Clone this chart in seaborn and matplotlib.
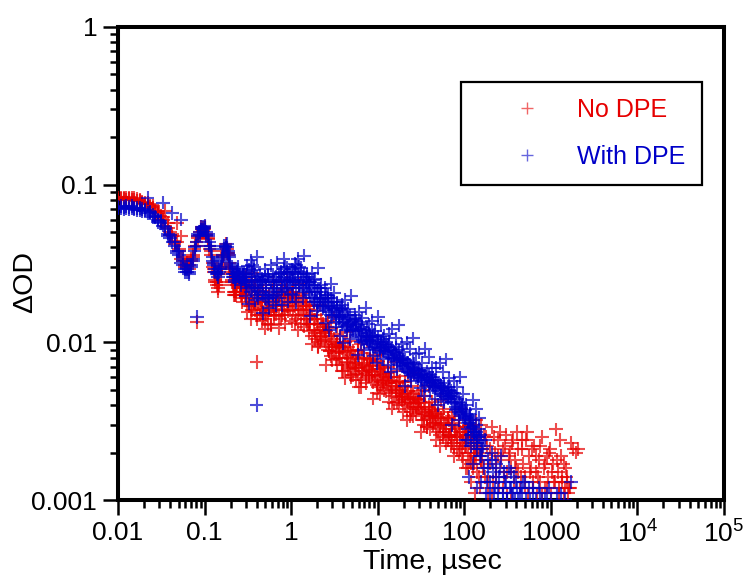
import matplotlib
matplotlib.use("Agg")
import matplotlib.pyplot as plt
from matplotlib.lines import Line2D
from matplotlib.ticker import FixedLocator, FixedFormatter, LogLocator, NullFormatter
import pandas as pd
import seaborn as sns

# ---------------- data ----------------
T_EARLY = [0.0100, 0.0108, 0.0116, 0.0125, 0.0134, 0.0144, 0.0155, 0.0166, 0.0178, 0.0191,
           0.0205, 0.0220, 0.0236, 0.0253, 0.0271, 0.0290, 0.0310, 0.0331, 0.0353, 0.0376,
           0.0400, 0.0425, 0.0451, 0.0478, 0.0506, 0.0535, 0.0565, 0.0596, 0.0628, 0.0661,
           0.0695, 0.0730, 0.0766, 0.0803, 0.0841, 0.0880, 0.0920, 0.0961, 0.1003, 0.1046,
           0.1090, 0.1135, 0.1181, 0.1228, 0.1276, 0.1325, 0.1375, 0.1426, 0.1478, 0.1531,
           0.1585, 0.1640, 0.1696, 0.1753, 0.1811, 0.1870, 0.1930, 0.1991, 0.2053, 0.2116,
           0.2180, 0.2245, 0.2311, 0.2378, 0.2446, 0.2515, 0.2585, 0.2656, 0.2728, 0.2801,
           0.2875, 0.2950]
RED_EARLY = [0.082, 0.081, 0.083, 0.082, 0.081, 0.082, 0.080, 0.081, 0.079, 0.078,
             0.077, 0.075, 0.074, 0.071, 0.069, 0.066, 0.063, 0.060, 0.068, 0.053,
             0.050, 0.047, 0.044, 0.057, 0.038, 0.047, 0.033, 0.031, 0.030, 0.031,
             0.033, 0.036, 0.039, 0.043, 0.047, 0.050, 0.052, 0.053, 0.052, 0.049,
             0.045, 0.041, 0.036, 0.032, 0.028, 0.025, 0.023, 0.022, 0.024, 0.027,
             0.031, 0.035, 0.038, 0.040, 0.039, 0.036, 0.032, 0.028, 0.025, 0.023,
             0.021, 0.020, 0.021, 0.023, 0.025, 0.024, 0.022, 0.020, 0.019, 0.021,
             0.023, 0.022]
RED_EARLY2 = [0.080, 0.083, 0.081, 0.080, 0.083, 0.080, 0.082, 0.079, 0.080, 0.077,
              0.075, 0.077, 0.072, 0.073, 0.067, 0.068, 0.061, 0.062, 0.055, 0.057,
              0.048, 0.049, 0.042, 0.043, 0.039, 0.034, 0.035, 0.030, 0.032, 0.029,
              0.034, 0.035, 0.041, 0.041, 0.046, 0.048, 0.054, 0.051, 0.054, 0.047,
              0.046, 0.039, 0.038, 0.030, 0.029, 0.024, 0.024, 0.021, 0.023, 0.029,
              0.030, 0.036, 0.036, 0.042, 0.037, 0.037, 0.030, 0.029, 0.024, 0.024,
              0.020, 0.021, 0.020, 0.024, 0.024, 0.025, 0.021, 0.021, 0.018, 0.022,
              0.022, 0.020]
BLUE_EARLY = [0.072, 0.071, 0.072, 0.071, 0.072, 0.071, 0.070, 0.071, 0.069, 0.070,
              0.068, 0.082, 0.066, 0.064, 0.062, 0.060, 0.057, 0.077, 0.052, 0.049,
              0.046, 0.066, 0.041, 0.038, 0.036, 0.060, 0.031, 0.029, 0.028, 0.028,
              0.030, 0.034, 0.038, 0.043, 0.047, 0.050, 0.052, 0.054, 0.053, 0.050,
              0.047, 0.043, 0.039, 0.035, 0.031, 0.029, 0.027, 0.027, 0.028, 0.030,
              0.033, 0.036, 0.039, 0.041, 0.040, 0.038, 0.035, 0.032, 0.029, 0.027,
              0.026, 0.025, 0.026, 0.028, 0.029, 0.027, 0.026, 0.024, 0.025, 0.027,
              0.026, 0.025]
BLUE_EARLY2 = [0.071, 0.073, 0.070, 0.073, 0.070, 0.073, 0.071, 0.069, 0.071, 0.068,
               0.069, 0.066, 0.067, 0.062, 0.063, 0.058, 0.059, 0.055, 0.054, 0.047,
               0.048, 0.043, 0.043, 0.037, 0.038, 0.032, 0.033, 0.028, 0.029, 0.027,
               0.031, 0.033, 0.040, 0.041, 0.049, 0.048, 0.054, 0.052, 0.055, 0.048,
               0.049, 0.041, 0.041, 0.033, 0.032, 0.028, 0.028, 0.026, 0.029, 0.029,
               0.034, 0.035, 0.041, 0.040, 0.042, 0.037, 0.036, 0.031, 0.030, 0.026,
               0.027, 0.024, 0.027, 0.027, 0.030, 0.026, 0.027, 0.023, 0.026, 0.026,
               0.027, 0.024]

T_MID = [0.300, 0.313, 0.326, 0.340, 0.355, 0.370, 0.386, 0.402, 0.419, 0.437,
         0.456, 0.476, 0.496, 0.517, 0.539, 0.562, 0.586, 0.611, 0.637, 0.665,
         0.693, 0.723, 0.754, 0.786, 0.819, 0.854, 0.891, 0.929, 0.969, 1.010,
         1.053, 1.098, 1.145, 1.194, 1.245, 1.298, 1.354, 1.412, 1.472, 1.535,
         1.601, 1.669, 1.741, 1.815, 1.893, 1.974, 2.058, 2.146, 2.238, 2.334,
         2.434, 2.538, 2.646, 2.760, 2.878, 3.001, 3.129, 3.263, 3.403, 3.548,
         3.700, 3.858, 4.024, 4.196, 4.375, 4.563, 4.758, 4.961, 5.174, 5.395,
         5.626, 5.867, 6.118, 6.380, 6.653, 6.938, 7.235, 7.545, 7.868, 8.205,
         8.556, 8.922, 9.304, 9.703, 10.12, 10.55, 11.00, 11.47, 11.97, 12.48,
         13.01, 13.57, 14.15, 14.76, 15.39, 16.05, 16.73, 17.45, 18.20, 18.98,
         19.79, 20.64, 21.52, 22.44, 23.40, 24.40, 25.45, 26.54, 27.67, 28.86,
         30.09, 31.38, 32.72, 34.12, 35.59, 37.11, 38.70, 40.35, 42.08, 43.88,
         45.76, 47.72, 49.76, 51.89, 54.12, 56.43, 58.85, 61.37, 64.00, 66.74,
         69.59, 72.57, 75.68, 78.92, 82.30, 85.82, 89.50, 93.33, 97.33, 101.5,
         105.8, 110.4, 115.1, 120.0, 125.2, 130.5, 136.1, 141.9, 148.0, 154.3]
RED_MID = [0.022, 0.019, 0.024, 0.017, 0.020, 0.023, 0.016, 0.019, 0.021, 0.015,
           0.018, 0.020, 0.015, 0.017, 0.013, 0.019, 0.016, 0.021, 0.015, 0.017,
           0.019, 0.015, 0.018, 0.021, 0.016, 0.019, 0.022, 0.017, 0.020, 0.018,
           0.021, 0.017, 0.019, 0.015, 0.020, 0.018, 0.016, 0.019, 0.014, 0.017,
           0.016, 0.013, 0.015, 0.012, 0.014, 0.011, 0.013, 0.010, 0.014, 0.0115,
           0.012, 0.0098, 0.0125, 0.0088, 0.011, 0.0093, 0.0105, 0.0078, 0.0098, 0.0087,
           0.0095, 0.0072, 0.0088, 0.0101, 0.0079, 0.0068, 0.0090, 0.0083, 0.0062, 0.0081,
           0.0074, 0.0088, 0.0069, 0.0058, 0.0080, 0.0072, 0.0064, 0.0079, 0.0067, 0.0071,
           0.0062, 0.0075, 0.0058, 0.0068, 0.0052, 0.0066, 0.0071, 0.0055, 0.0063, 0.0059,
           0.0064, 0.0051, 0.0057, 0.0046, 0.0060, 0.0053, 0.0042, 0.0056, 0.0050, 0.0047,
           0.0052, 0.0044, 0.0038, 0.0049, 0.0045, 0.0036, 0.0047, 0.0041, 0.0044, 0.0039,
           0.0043, 0.0037, 0.0032, 0.0041, 0.0036, 0.0029, 0.0039, 0.0034, 0.0038, 0.0031,
           0.0035, 0.0029, 0.0033, 0.0026, 0.0031, 0.0036, 0.0027, 0.0030, 0.0024, 0.0032,
           0.0028, 0.0023, 0.0031, 0.0026, 0.0021, 0.0029, 0.0024, 0.0019, 0.0027, 0.0022,
           0.0026, 0.0020, 0.0023, 0.0017, 0.0025, 0.0019, 0.0022, 0.0015, 0.0021, 0.0018]
RED_MID2 = [0.019, 0.023, 0.017, 0.021, 0.016, 0.018, 0.022, 0.014, 0.018, 0.020,
            0.016, 0.014, 0.019, 0.015, 0.018, 0.016, 0.013, 0.017, 0.019, 0.015,
            0.017, 0.020, 0.014, 0.016, 0.019, 0.015, 0.017, 0.020, 0.016, 0.021,
            0.016, 0.019, 0.014, 0.018, 0.016, 0.013, 0.018, 0.015, 0.017, 0.013,
            0.013, 0.015, 0.011, 0.014, 0.0105, 0.013, 0.0095, 0.012, 0.0108, 0.0125,
            0.0102, 0.0118, 0.0090, 0.0110, 0.0082, 0.0100, 0.0085, 0.0096, 0.0072, 0.0093,
            0.0080, 0.0092, 0.0066, 0.0085, 0.0075, 0.0094, 0.0070, 0.0060, 0.0078, 0.0072,
            0.0069, 0.0063, 0.0078, 0.0052, 0.0066, 0.0074, 0.0059, 0.0070, 0.0061, 0.0077,
            0.0065, 0.0056, 0.0062, 0.0048, 0.0060, 0.0068, 0.0054, 0.0061, 0.0050, 0.0058,
            0.0055, 0.0060, 0.0048, 0.0053, 0.0041, 0.0050, 0.0055, 0.0045, 0.0049, 0.0043,
            0.0046, 0.0040, 0.0048, 0.0042, 0.0034, 0.0044, 0.0039, 0.0045, 0.0035, 0.0041,
            0.0038, 0.0042, 0.0035, 0.0030, 0.0039, 0.0033, 0.0036, 0.0028, 0.0034, 0.0037,
            0.0031, 0.0034, 0.0027, 0.0030, 0.0033, 0.0025, 0.0031, 0.0028, 0.0033, 0.0026,
            0.0025, 0.0030, 0.0022, 0.0028, 0.0025, 0.0020, 0.0027, 0.0023, 0.0018, 0.0025,
            0.0022, 0.0027, 0.0018, 0.0024, 0.0016, 0.0021, 0.0019, 0.0024, 0.0014, 0.0020]
RED_MID3 = [0.026, 0.0156, 0.0224, 0.014, 0.0276, 0.0176, 0.0244, 0.0148, 0.021, 0.0166,
            0.0136, 0.0213, 0.0122, 0.023, 0.0156, 0.020, 0.0129, 0.0241, 0.0146, 0.0184,
            0.0201, 0.0123, 0.0231, 0.0149, 0.021, 0.0131, 0.0245, 0.0158, 0.0193, 0.0137,
            0.0221, 0.0133, 0.019, 0.0119, 0.0235, 0.015, 0.0207, 0.0126, 0.0179, 0.0141,
            0.0118, 0.0169, 0.0097, 0.0172, 0.0114, 0.0149, 0.0093, 0.0172, 0.0104, 0.0131,
            0.0118, 0.0072, 0.0136, 0.0088, 0.0124, 0.0077, 0.0144, 0.0093, 0.0113, 0.0080,
            0.0109, 0.0066, 0.0094, 0.0059, 0.0116, 0.0074, 0.0102, 0.0062, 0.0088, 0.0070,
            0.0058, 0.0090, 0.0052, 0.0097, 0.0066, 0.0085, 0.0055, 0.0102, 0.0062, 0.0078,
            0.0072, 0.0044, 0.0083, 0.0054, 0.0076, 0.0047, 0.0088, 0.0057, 0.0069, 0.0049,
            0.0070, 0.0042, 0.0060, 0.0038, 0.0075, 0.0048, 0.0066, 0.0040, 0.0057, 0.0045,
            0.0036, 0.0056, 0.0032, 0.0061, 0.0041, 0.0053, 0.0034, 0.0064, 0.0039, 0.0049,
            0.0044, 0.0027, 0.0050, 0.0032, 0.0046, 0.0029, 0.0053, 0.0034, 0.0042, 0.0030,
            0.0040, 0.0024, 0.0035, 0.0022, 0.0043, 0.0027, 0.0038, 0.0023, 0.0033, 0.0026,
            0.0022, 0.0034, 0.0019, 0.0036, 0.0025, 0.0032, 0.0021, 0.0038, 0.0023, 0.0029,
            0.0026, 0.0016, 0.0030, 0.0020, 0.0028, 0.0017, 0.0032, 0.0021, 0.0025, 0.0018]
BLUE_MID = [0.027, 0.023, 0.029, 0.021, 0.025, 0.030, 0.022, 0.026, 0.019, 0.024,
            0.021, 0.025, 0.019, 0.023, 0.027, 0.020, 0.024, 0.018, 0.022, 0.026,
            0.021, 0.025, 0.028, 0.022, 0.026, 0.030, 0.023, 0.027, 0.024, 0.029,
            0.025, 0.028, 0.022, 0.027, 0.030, 0.024, 0.026, 0.021, 0.025, 0.023,
            0.024, 0.020, 0.022, 0.025, 0.019, 0.021, 0.017, 0.022, 0.019, 0.018,
            0.019, 0.016, 0.020, 0.017, 0.015, 0.018, 0.016, 0.0135, 0.017, 0.015,
            0.016, 0.013, 0.0145, 0.0155, 0.012, 0.014, 0.0132, 0.0118, 0.0138, 0.0125,
            0.0130, 0.0112, 0.0121, 0.0135, 0.0104, 0.0118, 0.0109, 0.0122, 0.0098, 0.0110,
            0.0108, 0.0095, 0.0112, 0.0090, 0.0100, 0.0086, 0.0098, 0.0105, 0.0088, 0.0094,
            0.0096, 0.0084, 0.0090, 0.0079, 0.0087, 0.0093, 0.0076, 0.0082, 0.0072, 0.0080,
            0.0078, 0.0070, 0.0074, 0.0066, 0.0072, 0.0062, 0.0069, 0.0073, 0.0060, 0.0066,
            0.0067, 0.0059, 0.0063, 0.0056, 0.0061, 0.0065, 0.0054, 0.0060, 0.0057, 0.0052,
            0.0058, 0.0051, 0.0055, 0.0049, 0.0053, 0.0046, 0.0052, 0.0048, 0.0044, 0.0050,
            0.0046, 0.0042, 0.0048, 0.0039, 0.0044, 0.0036, 0.0041, 0.0038, 0.0034, 0.0037,
            0.0035, 0.0031, 0.0034, 0.0029, 0.0032, 0.0027, 0.0030, 0.0025, 0.0028, 0.0024]
BLUE_MID2 = [0.024, 0.028, 0.022, 0.026, 0.031, 0.023, 0.027, 0.020, 0.025, 0.022,
             0.024, 0.020, 0.026, 0.022, 0.019, 0.025, 0.021, 0.027, 0.023, 0.020,
             0.024, 0.027, 0.021, 0.025, 0.029, 0.024, 0.028, 0.022, 0.027, 0.025,
             0.028, 0.024, 0.031, 0.025, 0.023, 0.028, 0.022, 0.027, 0.024, 0.026,
             0.021, 0.024, 0.019, 0.023, 0.021, 0.018, 0.022, 0.019, 0.021, 0.017,
             0.017, 0.020, 0.018, 0.0155, 0.019, 0.0165, 0.018, 0.015, 0.0165, 0.0145,
             0.0145, 0.0165, 0.0135, 0.0125, 0.015, 0.0128, 0.0148, 0.0135, 0.0122, 0.0140,
             0.0118, 0.0128, 0.0108, 0.0119, 0.0125, 0.0101, 0.0115, 0.0104, 0.0114, 0.0102,
             0.0098, 0.0110, 0.0094, 0.0103, 0.0108, 0.0092, 0.0101, 0.0089, 0.0097, 0.0100,
             0.0088, 0.0094, 0.0081, 0.0091, 0.0078, 0.0085, 0.0080, 0.0089, 0.0077, 0.0074,
             0.0071, 0.0077, 0.0068, 0.0074, 0.0064, 0.0070, 0.0075, 0.0063, 0.0068, 0.0061,
             0.0062, 0.0066, 0.0058, 0.0063, 0.0053, 0.0059, 0.0062, 0.0055, 0.0058, 0.0060,
             0.0053, 0.0057, 0.0050, 0.0054, 0.0047, 0.0051, 0.0055, 0.0045, 0.0049, 0.0046,
             0.0044, 0.0048, 0.0041, 0.0045, 0.0038, 0.0042, 0.0035, 0.0040, 0.0036, 0.0033,
             0.0033, 0.0028, 0.0031, 0.0026, 0.0029, 0.0023, 0.0027, 0.0021, 0.0025, 0.0019]
BLUE_MID3 = [0.0196, 0.0306, 0.0176, 0.0331, 0.0225, 0.0289, 0.0186, 0.0348, 0.0211, 0.0265,
             0.0253, 0.0154, 0.029, 0.0187, 0.0264, 0.0165, 0.0308, 0.0198, 0.0242, 0.0172,
             0.0319, 0.0191, 0.0274, 0.0172, 0.0338, 0.0216, 0.0299, 0.0181, 0.0257, 0.0203,
             0.020, 0.0313, 0.018, 0.0338, 0.023, 0.0295, 0.019, 0.0355, 0.0215, 0.027,
             0.0242, 0.0147, 0.0277, 0.0179, 0.0252, 0.0158, 0.0294, 0.0189, 0.0231, 0.0164,
             0.0221, 0.0133, 0.019, 0.0119, 0.0235, 0.015, 0.0207, 0.0126, 0.0179, 0.0141,
             0.011, 0.0173, 0.0099, 0.0186, 0.0127, 0.0163, 0.0105, 0.0196, 0.0119, 0.0149,
             0.0136, 0.0083, 0.0156, 0.010, 0.0142, 0.0089, 0.0165, 0.0106, 0.013, 0.0092,
             0.0137, 0.0082, 0.0118, 0.0074, 0.0145, 0.0092, 0.0128, 0.0078, 0.011, 0.0087,
             0.0072, 0.0113, 0.0065, 0.0122, 0.0083, 0.0106, 0.0068, 0.0128, 0.0077, 0.0097,
             0.0087, 0.0053, 0.010, 0.0065, 0.0091, 0.0057, 0.0106, 0.0068, 0.0084, 0.0059,
             0.0086, 0.0051, 0.0074, 0.0046, 0.0091, 0.0058, 0.0081, 0.0049, 0.0069, 0.0055,
             0.0044, 0.0069, 0.0040, 0.0074, 0.0051, 0.0065, 0.0042, 0.0078, 0.0047, 0.0059,
             0.0049, 0.0030, 0.0057, 0.0037, 0.0052, 0.0032, 0.0060, 0.0039, 0.0047, 0.0034,
             0.0040, 0.0024, 0.0035, 0.0022, 0.0043, 0.0027, 0.0038, 0.0023, 0.0033, 0.0026]

RED_TAIL_T = [160, 168, 175, 183, 190, 198, 207, 215, 225, 234,
              245, 255, 266, 277, 290, 302, 315, 328, 342, 357,
              372, 388, 405, 422, 440, 459, 478, 499, 520, 542,
              565, 590, 615, 641, 668, 697, 727, 758, 790, 824,
              859, 896, 934, 974, 1016, 1059, 1105, 1152, 1201, 1252,
              1306, 1362, 1420, 1480, 1545, 1610, 1700, 1820, 1950, 2050]
RED_TAIL_Y = [0.0019, 0.0026, 0.0014, 0.0022, 0.0011, 0.0017, 0.0029, 0.0013, 0.0020, 0.0016,
              0.0024, 0.0012, 0.0018, 0.0021, 0.0014, 0.0026, 0.0011, 0.0019, 0.0016, 0.0023,
              0.0013, 0.0018, 0.0027, 0.0015, 0.0012, 0.0021, 0.0017, 0.0014, 0.0024, 0.0011,
              0.0019, 0.0016, 0.0013, 0.0022, 0.0015, 0.0011, 0.0018, 0.0013, 0.0025, 0.0016,
              0.0012, 0.0019, 0.0014, 0.0021, 0.0011, 0.0017, 0.0013, 0.0028, 0.0015, 0.0012,
              0.0019, 0.0014, 0.0011, 0.0016, 0.0013, 0.0012, 0.0023, 0.0021, 0.0020, 0.0021]
RED_TAIL2_T = [105, 112, 118, 126, 133, 141, 150, 158, 166, 178,
               187, 196, 210, 221, 232, 248, 262, 281, 296, 311,
               333, 350, 366, 395, 415, 448, 470, 505, 530, 575,
               603, 630, 680, 710, 745, 800, 850, 910, 960, 1040,
               1080, 1180, 1230, 1290, 1340, 1400, 1460, 1520, 1590, 1660]
RED_TAIL2_Y = [0.0016, 0.0030, 0.0013, 0.0027, 0.0011, 0.0023, 0.0012, 0.0030, 0.0016, 0.0025,
               0.0013, 0.0021, 0.0011, 0.0025, 0.0014, 0.0019, 0.0027, 0.0012, 0.0022, 0.0015,
               0.0020, 0.0011, 0.0024, 0.0016, 0.0021, 0.0014, 0.0024, 0.0012, 0.0027, 0.0015,
               0.0021, 0.0012, 0.0019, 0.0014, 0.0022, 0.0011, 0.0017, 0.0012, 0.0020, 0.0015,
               0.0013, 0.0018, 0.0011, 0.0024, 0.0013, 0.0017, 0.0012, 0.0014, 0.0011, 0.0012]
BLUE_TAIL_T = [160, 168, 175, 183, 190, 198, 207, 215, 225, 234,
               245, 255, 266, 277, 290, 302, 315, 328, 342, 357,
               372, 388, 405, 440, 478, 520, 565, 615, 668, 727,
               790, 896, 1016, 1306, 1700]
BLUE_TAIL_Y = [0.0021, 0.0016, 0.0024, 0.0013, 0.0018, 0.0011, 0.0020, 0.0015, 0.0012, 0.0017,
               0.0010, 0.0014, 0.0019, 0.0011, 0.0015, 0.0013, 0.0010, 0.0016, 0.0012, 0.0011,
               0.0014, 0.0010, 0.0012, 0.0011, 0.0013, 0.0010, 0.0012, 0.0011, 0.0010, 0.0012,
               0.0010, 0.0011, 0.0010, 0.0011, 0.0013]
BLUE_TAIL2_T = [105, 112, 118, 126, 133, 141, 150, 158, 166, 178,
                187, 196, 210, 221, 232, 248, 262, 281, 296, 311,
                333, 350, 366, 395, 415, 448, 470, 505, 575, 630,
                745, 850, 960, 1180, 1460]
BLUE_TAIL2_Y = [0.0024, 0.0014, 0.0032, 0.0017, 0.0026, 0.0012, 0.0019, 0.0013, 0.0022, 0.0011,
                0.0016, 0.0013, 0.0018, 0.0011, 0.0014, 0.0012, 0.0016, 0.0011, 0.0013, 0.0010,
                0.0012, 0.0015, 0.0011, 0.0013, 0.0010, 0.0012, 0.0011, 0.0013, 0.0010, 0.0012,
                0.0011, 0.0010, 0.0012, 0.0011, 0.0010]

RED_OUT_T = [0.082, 0.40]
RED_OUT_Y = [0.0135, 0.0075]
BLUE_OUT_T = [0.082, 0.40]
BLUE_OUT_Y = [0.0145, 0.0040]

SERIES = ["No DPE", "With DPE"]
COLORS = {"No DPE": "#e60000", "With DPE": "#0000c8"}
XTICKS = [0.01, 0.1, 1, 10, 100, 1000, 1e4, 1e5]
XTICK_LABELS = ["0.01", "0.1", "1", "10", "100", "1000",
                r"$\mathregular{10^4}$", r"$\mathregular{10^5}$"]
YTICKS = [0.001, 0.01, 0.1, 1]
YTICK_LABELS = ["0.001", "0.01", "0.1", "1"]

# ---------------- build table ----------------
red_t = (T_EARLY + T_EARLY + T_MID + T_MID + T_MID
         + RED_TAIL_T + RED_TAIL2_T + RED_OUT_T)
red_y = (RED_EARLY + RED_EARLY2 + RED_MID + RED_MID2 + RED_MID3
         + RED_TAIL_Y + RED_TAIL2_Y + RED_OUT_Y)
blue_t = (T_EARLY + T_EARLY + T_MID + T_MID + T_MID
          + BLUE_TAIL_T + BLUE_TAIL2_T + BLUE_OUT_T)
blue_y = (BLUE_EARLY + BLUE_EARLY2 + BLUE_MID + BLUE_MID2 + BLUE_MID3
          + BLUE_TAIL_Y + BLUE_TAIL2_Y + BLUE_OUT_Y)
df = pd.DataFrame({
    "t": red_t + blue_t,
    "od": red_y + blue_y,
    "series": [SERIES[0]] * len(red_t) + [SERIES[1]] * len(blue_t),
})

# ---------------- style ----------------
sns.set_style("ticks")
plt.rcParams["font.family"] = ["Liberation Sans", "DejaVu Sans"]
plt.rcParams["mathtext.fontset"] = "custom"
plt.rcParams["mathtext.rm"] = "Liberation Sans"
plt.rcParams["text.color"] = "black"
plt.rcParams["axes.labelcolor"] = "black"

fig = plt.figure(figsize=(7.49, 5.77), dpi=100)
ax = fig.add_axes([118 / 749, 1 - 500 / 577, 606 / 749, 473 / 577])

sns.scatterplot(data=df, x="t", y="od", hue="series", palette=COLORS,
                hue_order=SERIES, marker="+", s=95, linewidth=1.5,
                alpha=0.7, ax=ax, legend=False, zorder=3)

ax.set_xscale("log")
ax.set_yscale("log")
ax.set_xlim(0.01, 1e5)
ax.set_ylim(0.001, 1)

ax.xaxis.set_major_locator(FixedLocator(XTICKS))
ax.xaxis.set_major_formatter(FixedFormatter(XTICK_LABELS))
ax.yaxis.set_major_locator(FixedLocator(YTICKS))
ax.yaxis.set_major_formatter(FixedFormatter(YTICK_LABELS))
ax.xaxis.set_minor_locator(LogLocator(base=10, subs=range(2, 10), numticks=100))
ax.yaxis.set_minor_locator(LogLocator(base=10, subs=range(2, 10), numticks=100))
ax.xaxis.set_minor_formatter(NullFormatter())
ax.yaxis.set_minor_formatter(NullFormatter())

ax.tick_params(which="major", direction="out", length=11, width=1.8,
               labelsize=19, top=False, right=False, colors="black", pad=4)
ax.tick_params(which="minor", direction="out", length=6, width=1.8,
               top=False, right=False, colors="black")
for sp in ax.spines.values():
    sp.set_linewidth(2.9)
    sp.set_color("black")

ax.set_xlabel("Time, µsec", fontsize=20.5, color="black")
ax.set_ylabel("ΔOD", fontsize=20.5, color="black")
ax.xaxis.set_label_coords((432 - 118) / 606, (500 - 549) / 473)
ax.yaxis.set_label_coords((38 - 118) / 606, (500 - 282) / 473)

handles = [Line2D([0], [0], marker="+", ls="none", color=COLORS[s],
                  markersize=9, markeredgewidth=1.0, alpha=0.6) for s in SERIES]
leg = ax.legend(handles, SERIES, loc="upper left", bbox_to_anchor=(0.566, 0.884),
                frameon=True, fancybox=False, edgecolor="black", framealpha=1,
                borderpad=0.65, handlelength=4.0, handletextpad=0.0,
                labelspacing=0.9, fontsize=18, borderaxespad=0)
leg.get_frame().set_linewidth(1.6)
for txt, s in zip(leg.get_texts(), SERIES):
    txt.set_color(COLORS[s])

fig.savefig("out.png", dpi=100)
